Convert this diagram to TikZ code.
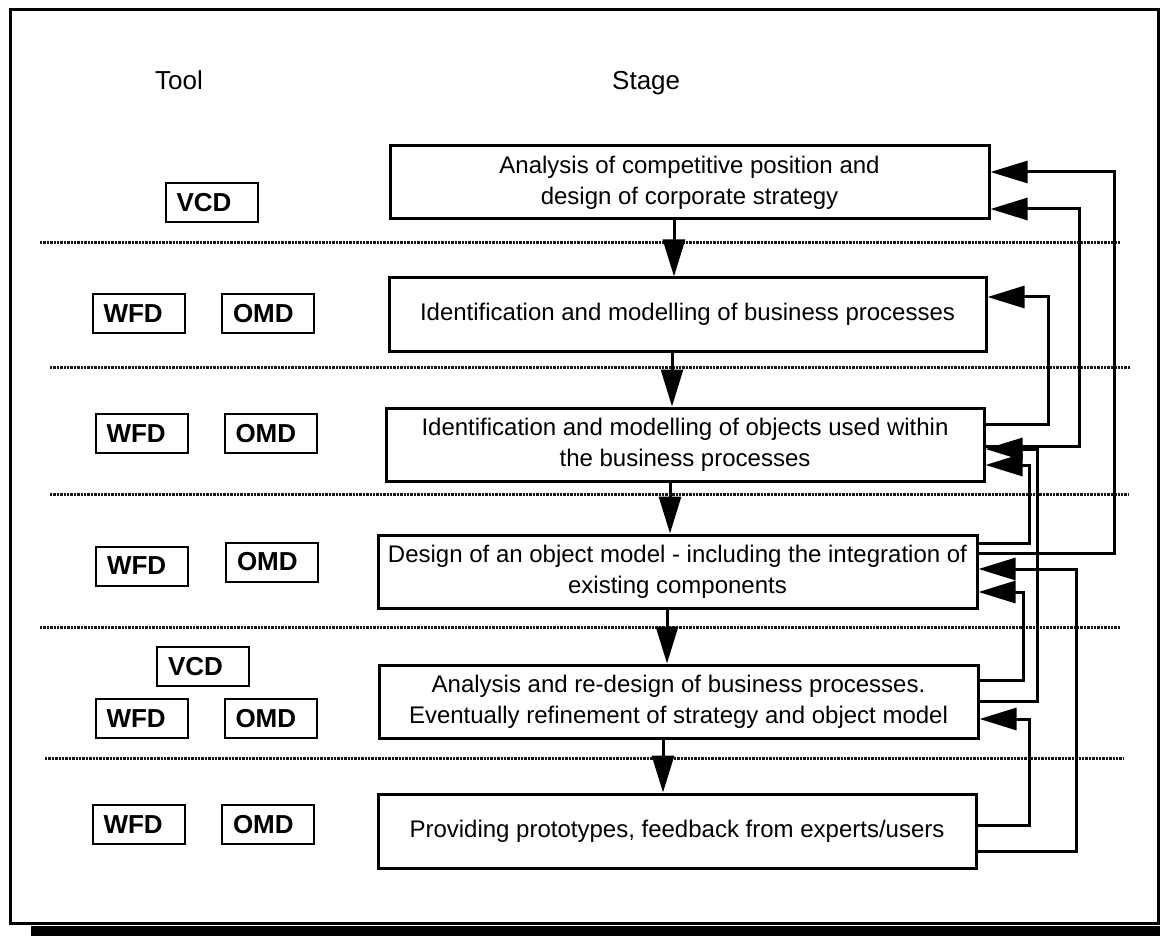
\documentclass[tikz,border=0pt]{standalone}
\usepackage{fontspec}
\setmainfont{Liberation Sans}
\usetikzlibrary{arrows.meta}

\tikzset{
  stagebox/.style={draw, line width=3pt, minimum height=73pt, inner sep=0pt,
    align=center, font=\fontsize{24}{31}\selectfont},
  toolbox/.style={draw, line width=2pt, minimum height=39pt, inner xsep=11pt,
    inner ysep=0pt, text width=70pt, align=left,
    font=\fontsize{26}{30}\selectfont\bfseries},
  hdr/.style={inner sep=0pt, anchor=base west, font=\fontsize{26}{30}\selectfont},
  flow/.style={line width=3pt, -{Triangle[length=37pt,width=22pt]}},
  sepline/.style={line width=3pt, dash pattern=on 2.4pt off 1pt, black!90},
}

\begin{document}
\begin{tikzpicture}[x=1pt, y=-1pt]
  \useasboundingbox (0,0) rectangle (1160,936);

  % outer frame with its shadow
  \fill (31,926) rectangle (1160,936);
  \draw[line width=3pt] (10,10) rectangle (1158.5,923);

  % column headings
  \node[hdr] (toolhdr) at (155,90) {Tool};
  \node[hdr] (stagehdr) at (612,90) {Stage};

  % separators between the stages
  \draw[sepline] (40,243) -- (1120,243);
  \draw[sepline] (50,367) -- (1130,367);
  \draw[sepline] (50,494) -- (1128,494);
  \draw[sepline] (40,627) -- (1120,627);
  \draw[sepline] (45,758) -- (1123,758);

  % stages
  \node[stagebox, minimum width=599pt] (b1) at (689.5,182.5)
    {Analysis of competitive position and\\design of corporate strategy};
  \node[stagebox, minimum width=597pt] (b2) at (687.5,314.5)
    {Identification and modelling of business processes};
  \node[stagebox, minimum width=598pt] (b3) at (685,444.5)
    {Identification and modelling of objects used within\\the business processes};
  \node[stagebox, minimum width=599pt] (b4) at (677.5,571.5)
    {Design of an object model - including the integration of\\existing components};
  \node[stagebox, minimum width=599pt] (b5) at (678.5,701.5)
    {Analysis and re-design of business processes.\\Eventually refinement of strategy and object model};
  \node[stagebox, minimum width=598pt, minimum height=74pt] (b6) at (677,831)
    {Providing prototypes, feedback from experts/users};

  % tools used in each stage
  \node[toolbox] (vcd1) at (211.5,202.5) {VCD};
  \node[toolbox] (wfd2) at (138.5,313.5) {WFD};
  \node[toolbox] (omd2) at (268,313.5) {OMD};
  \node[toolbox] (wfd3) at (141.5,433.5) {WFD};
  \node[toolbox] (omd3) at (270.5,433.5) {OMD};
  \node[toolbox] (wfd4) at (142,566) {WFD};
  \node[toolbox] (omd4) at (272,562) {OMD};
  \node[toolbox] (vcd5) at (203,666.5) {VCD};
  \node[toolbox] (wfd5) at (141.5,718.5) {WFD};
  \node[toolbox] (omd5) at (270.5,718.5) {OMD};
  \node[toolbox] (wfd6) at (138.5,824.5) {WFD};
  \node[toolbox] (omd6) at (268,824.5) {OMD};

  % forward flow
  \coordinate (d12) at (674,0);
  \coordinate (d23) at (672,0);
  \coordinate (d34) at (670,0);
  \coordinate (d45) at (667,0);
  \coordinate (d56) at (663,0);
  \draw[flow] (b1.south -| d12) -- (b2.north -| d12);
  \draw[flow] (b2.south -| d23) -- (b3.north -| d23);
  \draw[flow] (b3.south -| d34) -- (b4.north -| d34);
  \draw[flow] (b4.south -| d45) -- (b5.north -| d45);
  \draw[flow] (b5.south -| d56) -- (b6.north -| d56);

  % feedback loops
  \draw[flow] ([yshift=-1.5pt]b3.east) -- ++(94,0) |- ([yshift=-26.5pt]b1.east);
  \draw[flow] ([yshift=18.5pt]b4.east) -- ++(136,0) |- ([yshift=10.5pt]b1.east);
  \draw[flow] ([yshift=20.5pt]b3.east) -- ++(63,0) |- ([yshift=17.5pt]b2.east);
  \draw[flow] ([yshift=28.5pt]b4.east) -- ++(51,0) |- ([yshift=-20.5pt]b3.east);
  \draw[flow] (b5.east) -- ++(58,0) |- ([yshift=-4.5pt]b3.east);
  \draw[flow] ([yshift=21.5pt]b5.east) -- ++(44,0) |- ([yshift=-20.5pt]b4.east);
  \draw[flow] ([yshift=-20pt]b6.east) -- ++(99,0) |- ([yshift=2.5pt]b4.east);
  \draw[flow] ([yshift=6pt]b6.east) -- ++(52,0) |- ([yshift=-17.5pt]b5.east);
\end{tikzpicture}
\end{document}
